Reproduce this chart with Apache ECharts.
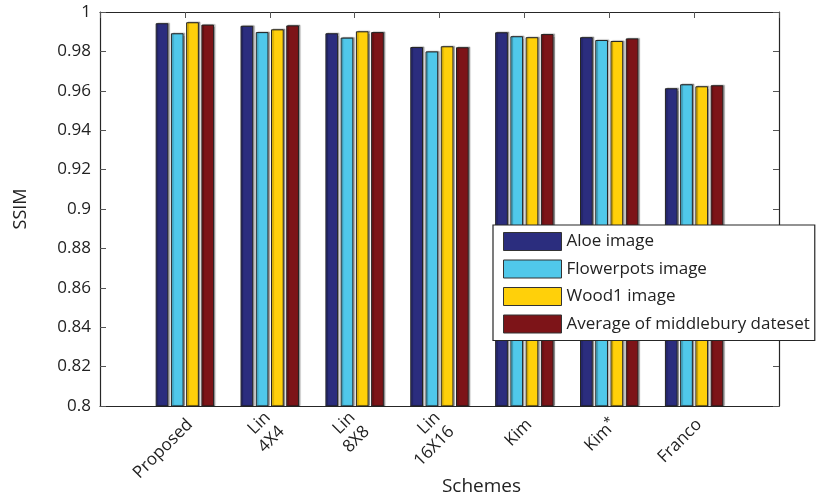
<!DOCTYPE html>
<html>
<head>
<meta charset="utf-8">
<script src="https://cdn.jsdelivr.net/npm/echarts@6/dist/echarts.min.js"></script>
<style>
html,body{margin:0;padding:0;background:#fff;}
#chart{width:817px;height:495px;}
</style>
</head>
<body>
<div id="chart"></div>
<script>
const categories = ['Proposed', 'Lin\n4X4', 'Lin\n8X8', 'Lin\n16X16', 'Kim', 'Kim*', 'Franco'];
const seriesNames = ['Aloe image', 'Flowerpots image', 'Wood1 image', 'Average of middlebury dateset'];
const aloe       = [0.9943, 0.9930, 0.9892, 0.9822, 0.9897, 0.9872, 0.9613];
const flowerpots = [0.9892, 0.9898, 0.9870, 0.9800, 0.9877, 0.9858, 0.9633];
const wood1      = [0.9948, 0.9912, 0.9902, 0.9826, 0.9872, 0.9853, 0.9623];
const average    = [0.9936, 0.9932, 0.9898, 0.9821, 0.9888, 0.9866, 0.9628];
const yTicks = { min: 0.8, max: 1, interval: 0.02 };
const colors = ['#2B2D7E', '#50C8EA', '#FFD00A', '#7D1418'];

const font = '"Open Sans", "DejaVu Sans", sans-serif';
const padCats = [''].concat(categories, ['']);
const pad = arr => [null].concat(arr, [null]);
const allData = [aloe, flowerpots, wood1, average];

const chart = echarts.init(document.getElementById('chart'), null, {renderer: 'canvas'});
const axisLineStyle = {color: '#262626', width: 1.2};
chart.setOption({
  animation: false,
  backgroundColor: '#fff',
  textStyle: {fontFamily: font},
  grid: {left: 100, right: 38, top: 12, bottom: 89, containLabel: false, outerBoundsMode: 'none'},
  legend: {
    orient: 'vertical',
    left: 493, top: 225,
    itemWidth: 58, itemHeight: 18, itemGap: 8.5,
    padding: [7, 5, 7, 10],
    backgroundColor: '#fff',
    borderColor: '#262626', borderWidth: 1.2,
    icon: 'rect',
    textStyle: {fontFamily: font, fontSize: 17, color: '#222'},
    itemStyle: {borderColor: '#333', borderWidth: 1},
    data: seriesNames
  },
  xAxis: [{
    type: 'category',
    data: padCats,
    boundaryGap: false,
    position: 'bottom',
    axisLine: {lineStyle: axisLineStyle},
    axisTick: {show: false},
    axisLabel: {
      rotate: 45, margin: 11, fontSize: 17, color: '#222', fontFamily: font,
      lineHeight: 20, interval: 0, padding: [14, 0, 0, 0],
      formatter: v => v === 'Kim*' ? 'Kim{sup|*}' : v,
      rich: {sup: {fontSize: 13, fontFamily: font, color: '#222', padding: [0, 0, 8, 0]}}
    },
    name: 'Schemes', nameLocation: 'middle', nameGap: 71, nameMoveOverlap: false,
    nameTextStyle: {fontSize: 19, color: '#222', fontFamily: font, padding: [0, 0, 0, 84]}
  }, {
    type: 'category',
    data: padCats,
    boundaryGap: false,
    position: 'top',
    axisLine: {lineStyle: axisLineStyle},
    axisTick: {show: true, inside: true, length: 6, interval: 0, lineStyle: {color: '#555'}},
    axisLabel: {show: false}
  }],
  yAxis: [{
    type: 'value',
    min: yTicks.min, max: yTicks.max, interval: yTicks.interval,
    axisLine: {show: true, lineStyle: axisLineStyle},
    axisTick: {show: true, inside: true, length: 6, lineStyle: {color: '#555'}},
    splitLine: {show: false},
    axisLabel: {fontSize: 17, color: '#222', margin: 9, fontFamily: font,
      formatter: v => String(parseFloat(v.toFixed(2)))},
    name: 'SSIM', nameLocation: 'middle', nameGap: 70, nameRotate: 90, nameMoveOverlap: false,
    nameTextStyle: {fontSize: 18, color: '#222', fontFamily: font}
  }, {
    type: 'value',
    position: 'right',
    min: yTicks.min, max: yTicks.max, interval: yTicks.interval,
    axisLine: {show: true, lineStyle: axisLineStyle},
    axisTick: {show: true, inside: true, length: 6, lineStyle: {color: '#555'}},
    splitLine: {show: false},
    axisLabel: {show: false}
  }],
  series: seriesNames.map((name, i) => ({
    name: name,
    type: 'bar',
    xAxisIndex: 0, yAxisIndex: 0,
    data: pad(allData[i]),
    barWidth: 12.7,
    barGap: '20%',
    itemStyle: {
      color: colors[i], borderColor: '#222', borderWidth: 1,
      shadowColor: 'rgba(0,0,0,0.3)', shadowBlur: 1, shadowOffsetX: 1.5, shadowOffsetY: -0.5
    }
  }))
});
</script>
</body>
</html>
